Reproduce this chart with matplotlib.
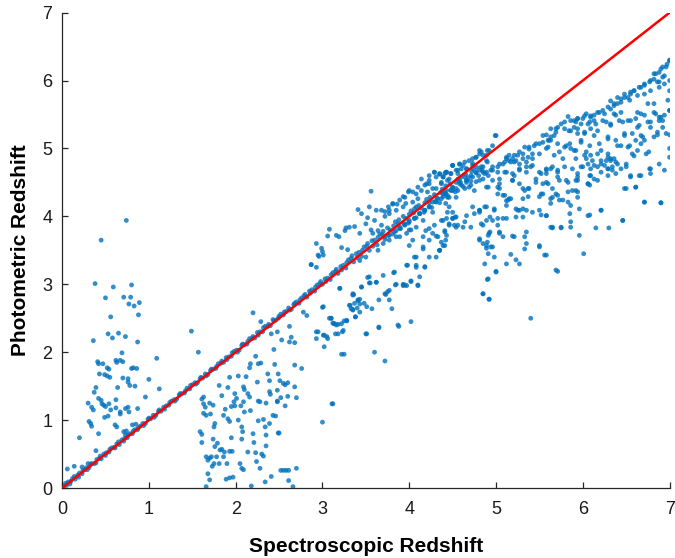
import matplotlib
matplotlib.use("Agg")
import matplotlib.pyplot as plt
import numpy as np

# (spectroscopic z, photometric z), grouped by region

# tight band along the one-to-one line
diag = [(0.02, 0.03), (0.05, 0.04), (0.07, 0.09), (0.1, 0.1), (0.12, 0.14), (0.15, 0.13),
        (0.18, 0.19), (0.2, 0.22), (0.23, 0.21), (0.26, 0.27), (0.28, 0.3), (0.31, 0.3),
        (0.34, 0.36), (0.37, 0.36), (0.4, 0.42), (0.43, 0.44), (0.45, 0.43), (0.48, 0.5),
        (0.51, 0.52), (0.54, 0.53), (0.57, 0.59), (0.6, 0.6), (0.63, 0.65), (0.66, 0.64),
        (0.69, 0.71), (0.72, 0.73), (0.75, 0.74), (0.78, 0.8), (0.81, 0.8), (0.84, 0.86),
        (0.87, 0.86), (0.9, 0.91), (0.93, 0.95), (0.96, 0.95), (0.99, 1.01), (1.02, 1.02),
        (1.05, 1.07), (1.08, 1.07), (1.11, 1.13), (1.14, 1.13), (1.17, 1.19), (1.2, 1.21),
        (1.23, 1.22), (1.26, 1.28), (1.29, 1.3), (1.32, 1.31), (1.35, 1.37), (1.38, 1.39),
        (1.41, 1.4), (1.44, 1.47), (1.47, 1.46), (1.5, 1.52), (1.53, 1.55), (1.56, 1.55),
        (1.59, 1.61), (1.62, 1.62), (1.65, 1.68), (1.68, 1.67), (1.71, 1.73), (1.74, 1.75),
        (1.77, 1.76), (1.8, 1.83), (1.83, 1.84), (1.86, 1.85), (1.89, 1.92), (1.92, 1.93),
        (1.95, 1.94), (1.98, 2.01), (2.01, 2.03), (2.04, 2.03), (2.07, 2.1), (2.1, 2.11),
        (2.13, 2.12), (2.16, 2.2), (2.19, 2.2), (2.22, 2.21), (2.25, 2.29), (2.28, 2.3),
        (2.31, 2.3), (2.34, 2.38), (2.37, 2.38), (2.4, 2.39), (2.43, 2.48), (2.46, 2.47),
        (2.49, 2.5), (2.52, 2.56), (2.55, 2.55), (2.58, 2.6), (2.61, 2.65), (2.64, 2.63),
        (2.67, 2.7), (2.7, 2.74), (2.73, 2.72), (2.76, 2.8), (2.79, 2.83), (2.82, 2.81),
        (2.85, 2.9), (2.88, 2.92), (2.91, 2.9), (2.94, 2.99), (2.97, 3.01), (3.0, 3.0),
        (3.03, 3.08), (3.06, 3.09), (3.09, 3.07), (3.12, 3.17), (3.15, 3.19), (3.18, 3.16),
        (3.21, 3.26), (3.24, 3.28), (3.27, 3.24), (3.3, 3.36), (3.33, 3.38), (3.36, 3.33),
        (3.39, 3.45), (3.42, 3.47), (3.45, 3.41), (3.48, 3.55), (3.51, 3.56), (3.54, 3.5),
        (3.57, 3.64), (3.6, 3.65), (3.63, 3.58), (3.66, 3.74), (3.69, 3.73), (3.72, 3.66),
        (3.75, 3.83), (3.78, 3.8), (3.81, 3.74), (3.84, 3.92), (3.87, 3.89), (3.9, 3.82),
        (3.93, 4.0), (3.96, 3.97), (3.99, 3.9), (4.02, 4.08), (4.05, 4.05), (4.08, 3.98),
        (4.11, 4.16), (4.14, 4.12), (4.17, 4.06), (4.2, 4.25), (4.23, 4.2), (4.26, 4.13),
        (4.29, 4.32), (4.32, 4.27), (4.35, 4.2), (4.38, 4.4), (4.41, 4.35), (4.44, 4.28),
        (4.47, 4.48), (4.5, 4.42), (4.53, 4.36), (4.56, 4.55), (4.59, 4.5), (4.62, 4.44),
        (4.65, 4.62), (4.68, 4.57), (4.71, 4.52), (4.74, 4.7), (4.77, 4.64), (4.8, 4.6)]

diag_extra = [(0.04, 0.07), (0.09, 0.06), (0.14, 0.17), (0.19, 0.16), (0.24, 0.26), (0.29, 0.27),
              (0.33, 0.35), (0.39, 0.37), (0.44, 0.47), (0.5, 0.48), (0.55, 0.57), (0.61, 0.59),
              (0.65, 0.68), (0.71, 0.69), (0.76, 0.78), (0.82, 0.84), (0.88, 0.89), (0.94, 0.92),
              (1.0, 1.03), (1.06, 1.04), (1.12, 1.15), (1.18, 1.16), (1.24, 1.26), (1.3, 1.28),
              (1.36, 1.39), (1.42, 1.43), (1.48, 1.51), (1.54, 1.53), (1.6, 1.63), (1.66, 1.65),
              (1.72, 1.75), (1.78, 1.79), (1.84, 1.87), (1.9, 1.89), (1.96, 1.99), (2.02, 2.0),
              (2.08, 2.12), (2.14, 2.16), (2.2, 2.23), (2.26, 2.25), (2.32, 2.36), (2.38, 2.41),
              (2.44, 2.46), (2.5, 2.53), (2.56, 2.59), (2.62, 2.62), (2.68, 2.72), (2.74, 2.77),
              (2.8, 2.85), (2.86, 2.87), (2.92, 2.96), (2.98, 3.04), (3.04, 3.04), (3.1, 3.14),
              (3.16, 3.22), (3.22, 3.21), (3.28, 3.32), (3.34, 3.42), (3.4, 3.39), (3.46, 3.5),
              (3.52, 3.6), (3.58, 3.56), (3.64, 3.69), (3.7, 3.78), (3.76, 3.72), (3.82, 3.86),
              (3.88, 3.95), (3.94, 3.88), (4.0, 4.03), (4.06, 4.11), (4.12, 4.04), (4.18, 4.2),
              (4.24, 4.28), (4.3, 4.22), (4.36, 4.35), (4.42, 4.45), (4.48, 4.39), (4.54, 4.5),
              (4.6, 4.58), (4.66, 4.53), (4.72, 4.66), (4.78, 4.72), (4.84, 4.68)]

# catastrophic outliers above the line at low redshift
lowz = [(0.45, 3.65), (0.74, 3.94), (0.38, 3.01), (0.59, 2.96), (0.8, 2.99), (0.5, 2.8),
        (0.71, 2.81), (0.79, 2.81), (0.77, 2.71), (0.83, 2.68), (0.89, 2.73), (0.88, 2.55),
        (0.56, 2.52), (0.53, 2.27), (0.65, 2.28), (0.58, 2.21), (0.73, 2.23), (0.36, 2.17),
        (0.87, 2.15), (1.49, 2.31), (1.57, 2.0), (1.09, 1.91), (0.69, 1.99), (0.62, 1.88),
        (0.63, 1.85), (0.67, 1.88), (0.7, 1.86), (0.41, 1.86), (0.42, 1.83), (0.47, 1.83),
        (0.52, 1.77), (0.54, 1.75), (0.8, 1.76), (0.82, 1.77), (0.86, 1.76), (0.43, 1.68),
        (0.49, 1.67), (0.52, 1.65), (0.55, 1.63), (0.7, 1.62), (0.76, 1.61), (0.76, 1.56),
        (0.78, 1.51), (0.84, 1.5), (1.0, 1.6), (0.64, 1.48), (0.39, 1.48), (0.37, 1.41),
        (1.12, 1.46), (0.96, 1.34), (0.3, 1.25), (0.42, 1.32), (0.45, 1.29), (0.46, 1.24),
        (0.48, 1.22), (0.5, 1.2), (0.34, 1.19), (0.36, 1.15), (0.54, 1.24), (0.56, 1.15),
        (0.62, 1.18), (0.67, 1.12), (0.67, 1.09), (0.73, 1.17), (0.76, 1.19), (0.77, 1.12),
        (0.87, 1.17), (0.62, 1.3), (0.49, 1.04), (0.53, 1.06), (0.31, 0.98), (0.33, 0.95),
        (0.34, 0.91), (0.61, 0.93), (0.63, 0.9), (0.81, 0.93), (0.85, 0.94), (0.71, 0.83),
        (0.74, 0.84), (0.73, 0.78), (0.42, 0.8), (0.2, 0.74), (0.39, 0.55), (0.06, 0.28),
        (0.14, 0.32), (0.23, 0.31), (0.3, 0.36)]

# outliers below the line around z ~ 2
midz = [(2.2, 2.58), (2.29, 2.45), (2.62, 2.38), (2.41, 2.27), (2.48, 2.3), (2.53, 2.18),
        (2.62, 2.15), (2.68, 2.14), (2.64, 2.22), (2.23, 1.94), (2.17, 1.83), (2.16, 1.77),
        (2.26, 1.83), (2.29, 1.84), (2.44, 2.04), (2.45, 1.82), (2.68, 1.81), (2.76, 1.76),
        (1.93, 1.63), (2.03, 1.65), (2.12, 1.64), (2.25, 1.56), (2.37, 1.68), (2.39, 1.58),
        (2.49, 1.68), (2.51, 1.58), (2.55, 1.54), (2.57, 1.52), (2.6, 1.55), (1.81, 1.51),
        (1.91, 1.48), (1.84, 1.36), (1.63, 1.34), (1.61, 1.31), (1.99, 1.39), (2.01, 1.32),
        (1.98, 1.27), (2.09, 1.49), (2.1, 1.45), (2.14, 1.39), (2.16, 1.34), (2.26, 1.28),
        (2.39, 1.42), (2.4, 1.38), (2.48, 1.44), (2.48, 1.28), (2.52, 1.33), (2.6, 1.35),
        (2.68, 1.49), (2.7, 1.33), (1.63, 1.24), (1.65, 1.19), (1.7, 1.25), (1.74, 1.22),
        (1.63, 1.1), (1.66, 1.07), (1.71, 1.09), (1.86, 1.07), (1.88, 1.16), (1.95, 1.2),
        (1.99, 1.21), (2.06, 1.21), (2.09, 1.27), (2.1, 1.12), (2.17, 1.14), (2.28, 1.27),
        (2.35, 1.25), (2.48, 1.27), (2.57, 1.21), (3.0, 0.97), (3.11, 1.24), (1.76, 0.95),
        (1.75, 0.9), (1.91, 1.02), (1.93, 0.98), (2.03, 1.0), (2.07, 0.9), (2.08, 0.83),
        (2.2, 0.8), (2.26, 0.99), (2.32, 1.01), (2.34, 0.9), (2.39, 0.95), (2.43, 1.07),
        (2.46, 1.06), (2.49, 0.81), (1.59, 0.83), (1.61, 0.79), (1.61, 0.67), (1.74, 0.72),
        (1.76, 0.61), (1.79, 0.66), (1.82, 0.56), (1.84, 0.57), (1.87, 0.53), (1.93, 0.54),
        (1.96, 0.54), (1.86, 0.46), (1.78, 0.46), (1.66, 0.46), (1.68, 0.41), (1.7, 0.44),
        (1.72, 0.46), (1.73, 0.32), (1.75, 0.36), (1.81, 0.36), (1.9, 0.36), (1.95, 0.74),
        (2.07, 0.72), (2.21, 0.67), (2.35, 0.78), (2.35, 0.62), (2.5, 0.81), (2.14, 0.53),
        (2.23, 0.52), (2.3, 0.5), (2.32, 0.47), (2.05, 0.36), (2.07, 0.29), (2.09, 0.27),
        (2.24, 0.39), (2.28, 0.29), (2.52, 0.26), (2.55, 0.26), (2.58, 0.26), (2.61, 0.26),
        (2.7, 0.29), (1.68, 0.21), (1.7, 0.12), (1.89, 0.13), (1.93, 0.15), (1.97, 0.16),
        (2.18, 0.03), (2.34, 0.09), (2.41, 0.17), (2.61, 0.11), (2.66, 0.02), (1.66, 0.02)]

# scatter on both sides of the line between z ~ 2.8 and 4.6
z3 = [(2.87, 3.29), (2.93, 3.25), (2.95, 3.43), (3.0, 3.48), (3.0, 2.66), (3.08, 2.5),
      (3.13, 2.42), (3.16, 2.4), (3.18, 2.27), (3.25, 2.46), (3.22, 1.97), (3.35, 2.84),
      (3.37, 2.72), (3.41, 2.76), (3.38, 2.52), (3.33, 2.64), (2.93, 2.2), (3.02, 2.25),
      (3.06, 2.2), (2.93, 2.3), (3.02, 2.08), (3.2, 2.94), (3.36, 2.85), (3.45, 2.96),
      (3.43, 2.78), (3.48, 2.72), (3.32, 2.69), (3.35, 2.63), (3.4, 2.65), (3.38, 2.52),
      (3.28, 2.46), (3.18, 2.41), (3.12, 2.43), (3.1, 2.5), (3.15, 2.27), (3.23, 2.3),
      (3.25, 1.97), (3.6, 2.0), (3.72, 1.87), (3.65, 2.36), (3.51, 2.27), (3.57, 2.64),
      (3.8, 2.64), (3.88, 2.38), (3.52, 3.1), (3.55, 3.02), (3.62, 3.03), (3.7, 3.13),
      (3.82, 3.17), (3.73, 2.85), (3.77, 2.91), (3.85, 3.0), (3.93, 2.98), (3.97, 2.98),
      (4.02, 3.05), (4.1, 2.98), (3.12, 1.24), (4.85, 2.86), (4.9, 3.07), (4.92, 2.78),
      (5.0, 3.19), (5.4, 2.5), (5.71, 3.19),
      (3.56, 4.37), (3.41, 4.1), (3.45, 4.04), (3.54, 4.14), (3.52, 3.98), (3.62, 4.09),
      (3.72, 4.07), (3.77, 4.09), (3.81, 4.18), (3.86, 4.18), (3.93, 4.29), (3.99, 4.36),
      (4.08, 4.33), (4.14, 4.38), (4.18, 4.46), (4.23, 4.48), (4.29, 4.65), (4.35, 4.62),
      (4.39, 4.58), (4.42, 4.65), (4.5, 4.75), (4.54, 4.68), (3.27, 3.83), (3.31, 3.84),
      (3.37, 3.85), (3.26, 3.79), (3.08, 3.81), (3.06, 3.71), (3.16, 3.72), (3.19, 3.7),
      (2.93, 3.6), (2.99, 3.53), (3.01, 3.43), (2.96, 3.41), (3.22, 3.54), (3.29, 3.51),
      (3.43, 3.75), (3.56, 3.8), (3.58, 3.75), (3.64, 3.79), (3.68, 3.87), (2.87, 3.29),
      (3.96, 4.19), (4.04, 4.21), (4.1, 4.26), (4.21, 4.36), (4.31, 4.41), (4.37, 4.48),
      (4.44, 4.53), (4.08, 4.14), (3.6, 3.94), (3.5, 3.89),
      (4.19, 3.79), (4.23, 3.65), (4.29, 3.87), (4.31, 3.71), (4.39, 3.94), (4.41, 3.79),
      (4.46, 3.89), (4.5, 3.97), (4.53, 3.99), (4.54, 3.84), (4.42, 3.65), (4.39, 3.57),
      (4.35, 3.5), (4.31, 3.4), (4.16, 3.52), (4.08, 3.4), (3.98, 3.28), (4.08, 3.25),
      (4.18, 3.25), (4.12, 3.11), (4.1, 2.99), (4.02, 3.04), (3.95, 2.99), (3.93, 3.0),
      (3.84, 2.99), (3.83, 3.18), (3.75, 2.89), (3.72, 2.86), (3.62, 3.03), (3.54, 3.11),
      (3.54, 3.02), (3.45, 2.96), (3.41, 2.77), (3.35, 2.86), (3.43, 2.71), (3.31, 2.69),
      (3.35, 2.62), (3.51, 2.67), (3.43, 2.59), (3.65, 2.77), (3.77, 2.77), (3.87, 2.4),
      (4.02, 2.45), (3.2, 2.94), (3.01, 2.67), (2.82, 2.54), (2.78, 2.59), (3.1, 2.5),
      (3.14, 2.42), (3.24, 2.32), (3.22, 2.42), (3.28, 2.47), (3.5, 2.27), (3.65, 2.37),
      (2.95, 2.3), (3.01, 2.25), (3.05, 2.23),
      (3.85, 3.79), (3.89, 3.84), (3.95, 3.89), (4.0, 3.94), (4.06, 3.97), (4.12, 4.04),
      (4.18, 4.09), (4.23, 4.14), (4.27, 4.21), (4.33, 4.26), (4.39, 4.29), (4.44, 4.31),
      (4.5, 4.38), (3.77, 3.65), (3.7, 3.6), (3.64, 3.5), (3.89, 3.7), (4.0, 3.8),
      (4.08, 3.84), (3.5, 3.4), (3.43, 3.35)]

z4 = [(4.81, 4.97), (4.89, 4.9), (4.77, 4.87), (4.69, 4.82), (4.64, 4.8), (4.58, 4.77),
      (4.5, 4.75), (4.43, 4.65), (4.35, 4.63), (4.29, 4.65), (4.23, 4.6), (4.2, 4.48),
      (4.14, 4.55), (4.1, 4.43), (4.04, 4.36), (4.0, 4.38), (3.95, 4.28), (3.89, 4.24),
      (3.81, 4.19), (3.76, 4.14), (3.68, 4.09), (3.72, 4.0), (3.77, 4.04), (3.85, 4.09),
      (3.93, 4.14), (4.27, 4.41), (4.37, 4.5), (4.46, 4.55), (4.56, 4.63), (4.66, 4.7),
      (4.73, 4.75), (4.58, 4.53), (4.64, 4.58),
      (4.89, 4.82), (4.83, 4.73), (4.77, 4.65), (4.71, 4.6), (4.66, 4.5), (4.6, 4.46),
      (4.54, 4.41), (4.48, 4.38), (4.42, 4.33), (4.37, 4.26), (4.31, 4.21), (4.23, 4.14),
      (4.18, 4.09), (4.12, 4.04), (4.06, 3.97), (4.0, 3.92), (3.95, 3.87), (3.89, 3.82),
      (3.83, 3.77), (3.77, 3.72), (3.72, 3.7), (3.85, 3.7), (3.97, 3.75), (4.02, 3.8),
      (4.16, 3.94), (4.27, 4.06), (4.42, 4.19), (4.54, 4.28), (4.69, 4.43), (4.81, 4.53),
      (4.85, 4.65),
      (4.44, 4.06), (4.5, 3.97), (4.46, 3.87), (4.56, 3.87), (4.64, 3.92), (4.75, 4.04),
      (4.81, 4.09), (4.89, 3.94), (4.81, 3.65), (4.89, 3.53), (4.37, 3.94), (4.23, 3.82),
      (4.33, 3.7), (4.41, 3.77), (4.16, 3.7), (4.27, 3.75), (4.04, 3.65), (4.0, 3.57),
      (4.16, 3.55), (4.35, 3.5), (4.06, 3.4), (4.23, 3.4), (4.08, 3.28), (4.18, 3.26),
      (3.97, 3.28), (4.87, 3.3)]

# high redshift, photo-z systematically low
z5 = [(4.99, 5.19), (4.96, 5.04), (4.77, 4.87), (4.83, 4.95), (4.73, 4.78), (4.62, 4.75),
      (4.56, 4.68), (4.48, 4.63), (4.41, 4.63), (4.31, 4.58), (4.23, 4.53),
      (4.81, 4.92), (4.92, 4.97), (4.73, 4.85), (4.58, 4.77), (4.5, 4.75), (4.6, 4.7),
      (4.43, 4.65), (4.48, 4.63), (4.66, 4.7), (4.39, 4.58),
      (5.12, 4.87), (5.15, 4.82), (5.19, 4.85), (5.25, 4.9), (5.31, 4.92), (5.38, 5.02),
      (5.46, 5.07), (5.54, 5.09), (5.61, 5.12), (5.67, 5.19), (5.69, 5.29), (5.5, 4.92),
      (5.42, 4.85), (5.35, 4.8), (5.27, 4.77), (5.21, 4.8), (5.08, 4.77), (5.02, 4.73),
      (4.96, 4.68), (4.89, 4.65), (4.81, 4.68), (4.73, 4.58), (4.66, 4.53), (4.58, 4.48),
      (4.5, 4.43), (4.43, 4.38), (4.39, 4.33), (4.46, 4.28), (4.56, 4.38), (4.64, 4.41),
      (4.71, 4.46), (4.77, 4.51), (4.85, 4.55), (4.91, 4.6), (4.96, 4.53), (5.04, 4.48),
      (5.12, 4.65), (5.19, 4.53), (5.27, 4.7), (5.35, 4.65), (5.4, 4.73), (5.5, 4.65),
      (5.58, 4.7), (5.65, 4.73), (5.71, 4.65),
      (5.04, 4.41), (5.02, 4.33), (4.91, 4.43), (4.75, 4.38), (4.5, 4.06), (4.43, 3.97),
      (4.46, 4.14), (4.54, 3.99), (4.66, 4.01), (4.73, 4.14), (4.81, 4.09), (4.89, 4.14),
      (4.98, 4.09), (5.08, 4.31), (5.12, 4.23), (5.15, 4.26), (5.27, 4.48), (5.31, 4.41),
      (5.37, 4.41), (5.46, 4.5), (5.52, 4.33), (5.58, 4.5), (5.65, 4.28), (5.69, 4.33),
      (5.25, 4.09), (5.31, 4.11), (5.42, 4.06), (5.5, 4.09), (5.58, 4.01), (5.08, 3.97),
      (4.96, 3.94), (4.85, 3.87), (4.71, 3.84), (4.62, 3.84), (4.52, 3.87), (4.43, 3.72),
      (4.37, 3.62), (4.35, 3.5), (4.41, 3.57), (4.92, 3.75), (4.91, 3.72), (5.04, 3.77),
      (5.08, 3.7), (4.85, 3.6), (4.81, 3.67), (4.94, 3.55), (4.91, 3.45), (4.98, 3.4),
      (5.12, 3.3), (5.17, 3.44), (5.23, 3.36), (5.27, 3.3), (5.21, 3.7), (5.35, 3.6),
      (5.35, 3.77), (5.5, 3.55), (5.56, 3.43), (5.33, 3.52), (5.65, 3.84), (5.69, 3.21),
      (5.0, 3.18), (4.91, 3.08), (4.85, 2.86), (4.92, 2.78)]

z5b = [(5.83, 5.47), (5.75, 5.36), (5.79, 5.29), (5.69, 5.24), (5.84, 5.26), (5.9, 5.31),
       (5.92, 5.39), (5.63, 5.17), (5.6, 5.12), (5.54, 5.19), (5.5, 5.07), (5.44, 5.04),
       (5.38, 4.99), (5.33, 5.02), (5.27, 4.95), (5.21, 4.9), (5.15, 4.9), (5.12, 4.85),
       (5.1, 4.8), (5.17, 4.8), (5.23, 4.82), (5.31, 4.85), (5.37, 4.87), (5.42, 4.92),
       (5.58, 5.0), (5.73, 4.95), (5.81, 5.04), (5.86, 5.0), (5.04, 4.77), (4.96, 4.73),
       (4.9, 4.8), (4.85, 4.73), (4.87, 4.63), (4.94, 4.68), (5.02, 4.65), (5.1, 4.65),
       (5.19, 4.63), (5.27, 4.68), (5.35, 4.73), (5.42, 4.75), (5.0, 5.19), (4.9, 4.97),
       (4.85, 4.9),
       (5.21, 4.6), (5.04, 4.55), (4.89, 4.43), (5.02, 4.43), (5.19, 4.53), (5.46, 4.55),
       (5.52, 4.63), (5.58, 4.68), (5.71, 4.68), (5.81, 4.53), (5.73, 4.53), (5.54, 4.48),
       (5.33, 4.38), (5.38, 4.41), (5.1, 4.31), (5.14, 4.24), (5.17, 4.26), (5.12, 4.16),
       (5.31, 4.26), (5.37, 4.29), (5.5, 4.29), (5.54, 4.33), (5.63, 4.26), (5.73, 4.24),
       (5.83, 4.21), (5.88, 4.38), (5.92, 4.53), (4.87, 4.14), (4.98, 4.11), (5.23, 4.11),
       (5.27, 4.09), (5.35, 4.09), (4.81, 4.06), (4.93, 3.99), (5.02, 3.97), (5.12, 3.97),
       (5.23, 3.99), (5.31, 3.99), (5.52, 4.02), (4.83, 3.89), (5.02, 3.87), (5.63, 3.84),
       (5.75, 3.84), (5.86, 3.84), (4.93, 3.77), (5.04, 3.75), (5.19, 3.71), (5.33, 3.7),
       (4.9, 3.62), (4.96, 3.55), (5.5, 3.57), (4.89, 3.57)]

z6 = [(7.0, 6.3), (6.97, 6.24), (6.92, 6.2), (6.88, 6.12), (6.82, 6.1), (6.92, 6.05),
      (6.86, 5.98), (6.78, 6.0), (6.71, 5.95), (6.67, 5.9), (6.59, 5.85), (6.55, 5.83),
      (6.48, 5.8), (6.4, 5.75), (6.32, 5.7), (6.36, 5.66), (6.44, 5.73), (6.52, 5.75),
      (6.63, 5.78), (6.71, 5.8), (6.78, 5.85), (6.88, 5.9), (7.0, 6.0), (7.0, 5.85),
      (6.98, 5.71), (7.0, 5.56), (6.9, 5.46), (6.82, 5.53), (6.88, 5.41), (6.92, 5.31),
      (6.86, 5.2), (7.0, 5.2), (7.0, 5.0), (7.0, 4.87),
      (6.23, 5.56), (6.17, 5.53), (6.09, 5.48), (6.02, 5.48), (5.94, 5.44), (5.86, 5.41),
      (5.79, 5.39), (5.71, 5.31), (5.63, 5.29), (5.58, 5.2), (6.13, 5.41), (6.06, 5.36),
      (5.94, 5.29), (5.86, 5.26), (6.02, 5.22), (6.27, 5.39), (6.32, 5.34), (6.38, 5.49),
      (6.46, 5.39), (6.55, 5.41), (6.63, 5.53), (6.71, 5.49), (6.75, 5.39), (6.63, 5.31),
      (6.57, 5.22), (6.69, 5.17), (6.78, 5.31), (6.48, 5.22), (6.38, 5.12), (6.44, 5.04),
      (6.52, 5.02), (6.59, 4.89), (6.67, 5.07), (6.76, 4.95),
      (5.63, 5.12), (5.71, 5.07), (5.6, 5.02), (5.79, 5.02), (5.85, 5.07), (5.98, 5.12),
      (6.13, 5.19), (6.29, 5.17), (5.9, 4.97), (6.02, 4.9), (6.09, 4.9), (6.17, 4.92),
      (5.67, 4.9), (5.77, 4.85), (5.92, 4.85), (6.06, 4.77), (6.13, 4.75), (6.21, 4.77),
      (6.27, 4.82), (6.32, 4.85), (6.38, 4.8), (6.5, 4.77), (6.29, 4.7), (6.34, 4.73),
      (6.21, 4.65), (6.09, 4.6), (5.98, 4.73), (5.88, 4.7), (5.79, 4.73), (5.63, 4.7),
      (5.58, 4.63), (5.6, 4.48), (5.71, 4.58), (5.83, 4.5), (5.94, 4.58), (6.06, 4.48),
      (6.17, 4.53), (6.38, 4.63), (6.55, 4.58), (6.67, 4.6), (6.78, 4.7), (6.88, 4.77),
      (5.65, 4.41), (5.71, 4.31), (5.83, 4.36), (5.92, 4.38), (5.63, 4.19), (5.77, 4.24),
      (5.86, 4.16), (5.94, 4.28), (5.58, 4.01), (5.85, 4.04), (6.06, 4.01), (6.21, 4.09),
      (6.5, 4.41), (6.61, 4.43), (6.71, 4.21), (6.9, 4.2), (6.46, 3.94), (5.86, 3.92),
      (5.65, 3.83), (5.75, 3.83), (6.15, 3.83), (6.3, 3.83), (5.96, 3.72), (6.01, 3.45),
      (5.58, 3.43)]

z6b = [(7.0, 6.29), (6.96, 6.2), (6.9, 6.17), (6.94, 6.07), (6.84, 6.1), (6.82, 6.02),
       (6.77, 5.98), (6.88, 5.98), (6.94, 5.95), (6.71, 5.93), (6.65, 5.9), (6.59, 5.85),
       (6.55, 5.8), (6.54, 5.71), (6.48, 5.75), (6.44, 5.68), (6.4, 5.66), (6.36, 5.63),
       (6.32, 5.58), (6.29, 5.61), (6.25, 5.51), (6.19, 5.53), (6.13, 5.49), (6.09, 5.46),
       (6.04, 5.51), (6.0, 5.44), (5.94, 5.44), (5.9, 5.41), (5.98, 5.36), (6.08, 5.39),
       (6.15, 5.36), (6.23, 5.41), (6.36, 5.51), (6.44, 5.53), (6.52, 5.41), (6.61, 5.44),
       (6.67, 5.51), (6.75, 5.66), (6.82, 5.66), (6.84, 5.51), (6.88, 5.46), (6.92, 5.41),
       (6.94, 5.49), (6.78, 5.39), (6.65, 5.34), (6.42, 5.41), (6.32, 5.36), (7.0, 5.56),
       (6.02, 5.24), (6.09, 5.29), (6.17, 5.26), (5.94, 5.22), (5.98, 5.09), (6.08, 5.04),
       (6.19, 5.07), (6.29, 5.14), (6.4, 5.04), (6.48, 5.19), (6.54, 5.04), (6.61, 5.12),
       (6.67, 5.19), (6.71, 5.12), (6.82, 5.17), (6.86, 5.24), (6.96, 5.22), (6.57, 4.92),
       (6.63, 4.97), (6.73, 4.92), (5.92, 4.97), (6.04, 4.95), (6.21, 4.97), (6.29, 4.92),
       (6.04, 4.85), (6.11, 4.82), (6.21, 4.82), (6.29, 4.87), (6.32, 4.82), (6.36, 4.85),
       (6.4, 4.77), (6.25, 4.75), (6.17, 4.73), (6.09, 4.7), (6.0, 4.73), (6.29, 4.7),
       (6.34, 4.68), (6.44, 4.7), (6.5, 4.73), (5.94, 4.63), (6.08, 4.6), (6.13, 4.55),
       (6.29, 4.6), (6.55, 4.6), (6.65, 4.6), (6.78, 4.63), (6.77, 4.7), (6.94, 4.68),
       (5.94, 4.53), (6.06, 4.48), (6.08, 4.46), (6.48, 4.41), (6.61, 4.43), (5.94, 4.36),
       (6.71, 4.21), (6.9, 4.2), (5.96, 4.11), (6.21, 4.09), (6.08, 4.02), (6.46, 3.94)]

groups = [diag, diag_extra, lowz, midz, z3, z4, z5, z5b, z6, z6b]
spec_z = np.array([p[0] for g in groups for p in g])
phot_z = np.array([p[1] for g in groups for p in g])

plt.rcParams['font.family'] = ['Liberation Sans', 'DejaVu Sans']

fig = plt.figure(figsize=(6.75, 5.58), dpi=100)
ax = fig.add_axes([0.092, 0.1254, 0.9, 0.852])

ax.scatter(spec_z, phot_z, s=12, color='#0072BD', alpha=0.8, edgecolors='none', zorder=2)
ax.plot([0, 7], [0, 7], color='#FF0000', linewidth=1.8, zorder=3)

ax.set_xlim(0, 7)
ax.set_ylim(0, 7)
ax.set_xticks(range(8))
ax.set_yticks(range(8))
for side in ['top', 'right']:
    ax.spines[side].set_visible(False)
for side in ['left', 'bottom']:
    ax.spines[side].set_color('#262626')
    ax.spines[side].set_linewidth(0.9)
ax.tick_params(direction='in', length=4, width=0.9, color='#262626',
               labelsize=13, labelcolor='#1a1a1a')
ax.tick_params(axis='x', pad=9)
ax.tick_params(axis='y', pad=7)

ax.set_xlabel('Spectroscopic Redshift', fontsize=15, fontweight='bold', labelpad=14)
ax.set_ylabel('Photometric Redshift', fontsize=15, fontweight='bold', labelpad=9)

fig.savefig('out.png', dpi=100)
